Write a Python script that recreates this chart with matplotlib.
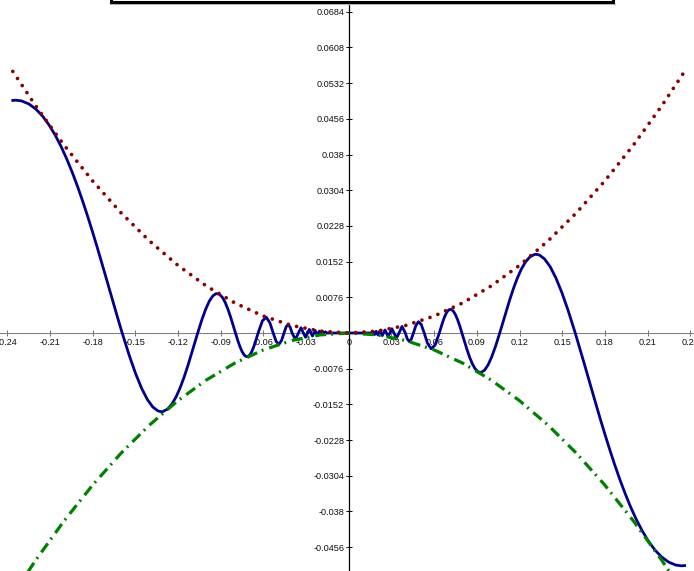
import matplotlib
matplotlib.use("Agg")
import matplotlib.pyplot as plt
from matplotlib.patches import Rectangle
from matplotlib.lines import Line2D

plt.rcParams['lines.scale_dashes'] = False
plt.rcParams['font.family'] = ['Liberation Sans', 'DejaVu Sans']

# ---- data ----
# blue curve, right half (x >= 0); left half is its point mirror
blue_x_pos = [0.0, 0.015915, 0.016324, 0.016753, 0.017206, 0.017684, 0.018189,
              0.018724, 0.019292, 0.019894, 0.020536, 0.021221, 0.021952, 0.022736,
              0.023579, 0.024485, 0.025465, 0.026526, 0.027679, 0.028937, 0.030315,
              0.031831, 0.033506, 0.035368, 0.037448, 0.039789,
              0.041072, 0.042441, 0.043905, 0.045473,
              0.047157, 0.048971, 0.050930, 0.053052,
              0.055359, 0.057875, 0.060630, 0.063662,
              0.065857, 0.068209, 0.070736, 0.073456, 0.076394, 0.079577,
              0.083037, 0.086812, 0.090946, 0.095493, 0.100519, 0.106103,
              0.110718, 0.115749, 0.121261, 0.127324, 0.131620, 0.134021,
              0.141471, 0.149790, 0.159155,
              0.165289, 0.170940, 0.176991, 0.183486, 0.190476, 0.198020,
              0.206190, 0.215050, 0.224720, 0.233900, 0.236000,
              # extra points on the larger lobes
              0.154332, 0.145514, 0.137648, 0.130589, 0.124218, 0.118440,
              0.113177, 0.108361,
              0.229885, 0.219780, 0.210526, 0.202020, 0.194175, 0.186916,
              0.180180, 0.173913, 0.168067, 0.162602,
              0.103235, 0.097941, 0.093164, 0.088831, 0.084883, 0.081271,
              0.077953, 0.074896, 0.072070, 0.069449, 0.067012, 0.064741]
blue_y_pos = [0.0, 0.0, -0.000266, 0.0, 0.000296, 0.0, -0.000331,
              0.0, 0.000372, 0.0, -0.000422, 0.0, 0.000482, 0.0,
              -0.000556, 0.0, 0.000648, 0.0, -0.000766, 0.0, 0.000919,
              0.0, -0.001123, 0.0, 0.001402, 0.0,
              -0.001193, -0.001801, -0.001363, 0.0,
              0.001572, 0.002398, 0.001834, 0.0,
              -0.002167, -0.003350, -0.002599, 0.0,
              0.002169, 0.004029, 0.005004, 0.004673, 0.002918, 0.0,
              -0.003448, -0.006527, -0.008271, -0.007897, -0.005052, 0.0,
              0.004691, 0.009474, 0.013585, 0.016211, 0.016761, 0.016595,
              0.014152, 0.008587, 0.0,
              -0.006310, -0.012270, -0.018540, -0.024910, -0.031170, -0.037000,
              -0.042110, -0.046160, -0.048770, -0.049570, -0.049520,
              0.004647, 0.011764, 0.015754, 0.016726, 0.015134, 0.011664,
              0.007116, 0.002291,
              -0.049417, -0.047670, -0.044288, -0.039671, -0.034151, -0.028073,
              -0.021727, -0.015373, -0.009238, -0.003511,
              -0.002758, -0.006783, -0.008384, -0.007622, -0.005095, -0.001710,
              0.001573, 0.003966, 0.005017, 0.004659, 0.003175, 0.001085]

red_x = [-0.236, -0.22, -0.20, -0.18, -0.16, -0.14, -0.12, -0.10, -0.08, -0.06,
         -0.04, -0.02, 0.0, 0.02, 0.04, 0.06, 0.08, 0.10, 0.12, 0.14, 0.16,
         0.18, 0.20, 0.22, 0.236]
red_y = [0.0557, 0.0484, 0.0400, 0.0324, 0.0256, 0.0196, 0.0144, 0.0100, 0.0064,
         0.0036, 0.0016, 0.0004, 0.0, 0.0004, 0.0016, 0.0036, 0.0064, 0.0100,
         0.0144, 0.0196, 0.0256, 0.0324, 0.0400, 0.0484, 0.0557]
green_x = red_x
green_y = [-0.0557, -0.0484, -0.0400, -0.0324, -0.0256, -0.0196, -0.0144, -0.0100,
           -0.0064, -0.0036, -0.0016, -0.0004, 0.0, -0.0004, -0.0016, -0.0036,
           -0.0064, -0.0100, -0.0144, -0.0196, -0.0256, -0.0324, -0.0400,
           -0.0484, -0.0557]

x_ticks = [-0.24, -0.21, -0.18, -0.15, -0.12, -0.09, -0.06, -0.03, 0.0,
           0.03, 0.06, 0.09, 0.12, 0.15, 0.18, 0.21, 0.24]
x_labels = ["-0.24", "-0.21", "-0.18", "-0.15", "-0.12", "-0.09", "-0.06", "-0.03", "0",
            "0.03", "0.06", "0.09", "0.12", "0.15", "0.18", "0.21", "0.24"]
y_ticks = [0.0684, 0.0608, 0.0532, 0.0456, 0.038, 0.0304, 0.0228, 0.0152, 0.0076,
           -0.0076, -0.0152, -0.0228, -0.0304, -0.038, -0.0456]
y_labels = ["0.0684", "0.0608", "0.0532", "0.0456", "0.038", "0.0304", "0.0228",
            "0.0152", "0.0076", "-0.0076", "-0.0152", "-0.0228", "-0.0304",
            "-0.038", "-0.0456"]

pairs = sorted(zip(blue_x_pos, blue_y_pos))
bx = [p[0] for p in pairs]
by = [p[1] for p in pairs]
blue_x = [-v for v in reversed(bx)] + bx[1:]
blue_y = [-v for v in reversed(by)] + by[1:]

W, H = 694, 571
fig = plt.figure(figsize=(W / 100, H / 100), dpi=100)
fig.patch.set_facecolor('white')
ax = fig.add_axes([0, 0, 1, 1])
ax.set_facecolor('white')

ax.plot(blue_x, blue_y, color='#00008b', lw=2.0, solid_joinstyle='round', zorder=4)
ax.plot(green_x, green_y, color='#008000', lw=2.3,
        linestyle=(0, (7.9, 3.6, 1.4, 4.3)), dash_capstyle='butt', zorder=5)
ax.plot(red_x, red_y, color='#8b0000', lw=2.7,
        linestyle=(0, (0.01, 6.1)), dash_capstyle='round', zorder=6)

ax.set_xlim(-0.2450, 0.2426)
ax.set_ylim(-0.05067, 0.07090)

for s in ['top', 'right']:
    ax.spines[s].set_visible(False)
ax.spines['left'].set_position(('data', 0))
ax.spines['bottom'].set_position(('data', 0))
ax.spines['left'].set_color('black')
ax.spines['left'].set_linewidth(0.9)
ax.spines['bottom'].set_color('#808080')
ax.spines['bottom'].set_linewidth(0.8)

ax.set_xticks(x_ticks)
ax.set_xticklabels(x_labels)
ax.set_yticks(y_ticks)
ax.set_yticklabels(y_labels)
ax.tick_params(axis='x', direction='inout', length=4.5, width=0.7, color='#707070',
               labelsize=6.6, pad=1.5, labelcolor='#111111')
ax.tick_params(axis='y', direction='inout', length=4.5, width=0.7, color='black',
               labelsize=6.6, pad=1.0, labelcolor='#111111')

# title box at the top (cut off by the figure edge)
fig.add_artist(Rectangle((111 / W, (H - 1.8) / H), (613 - 111) / W, 0.2,
                         transform=fig.transFigure, facecolor='white',
                         edgecolor='black', lw=2.2, zorder=10, clip_on=False))
fig.add_artist(Line2D([110 / W, 615 / W], [(H - 4.3) / H] * 2,
                      transform=fig.transFigure, color='#b8b8b8', lw=0.8, zorder=9))

fig.savefig('out.png', dpi=100, facecolor='white')
